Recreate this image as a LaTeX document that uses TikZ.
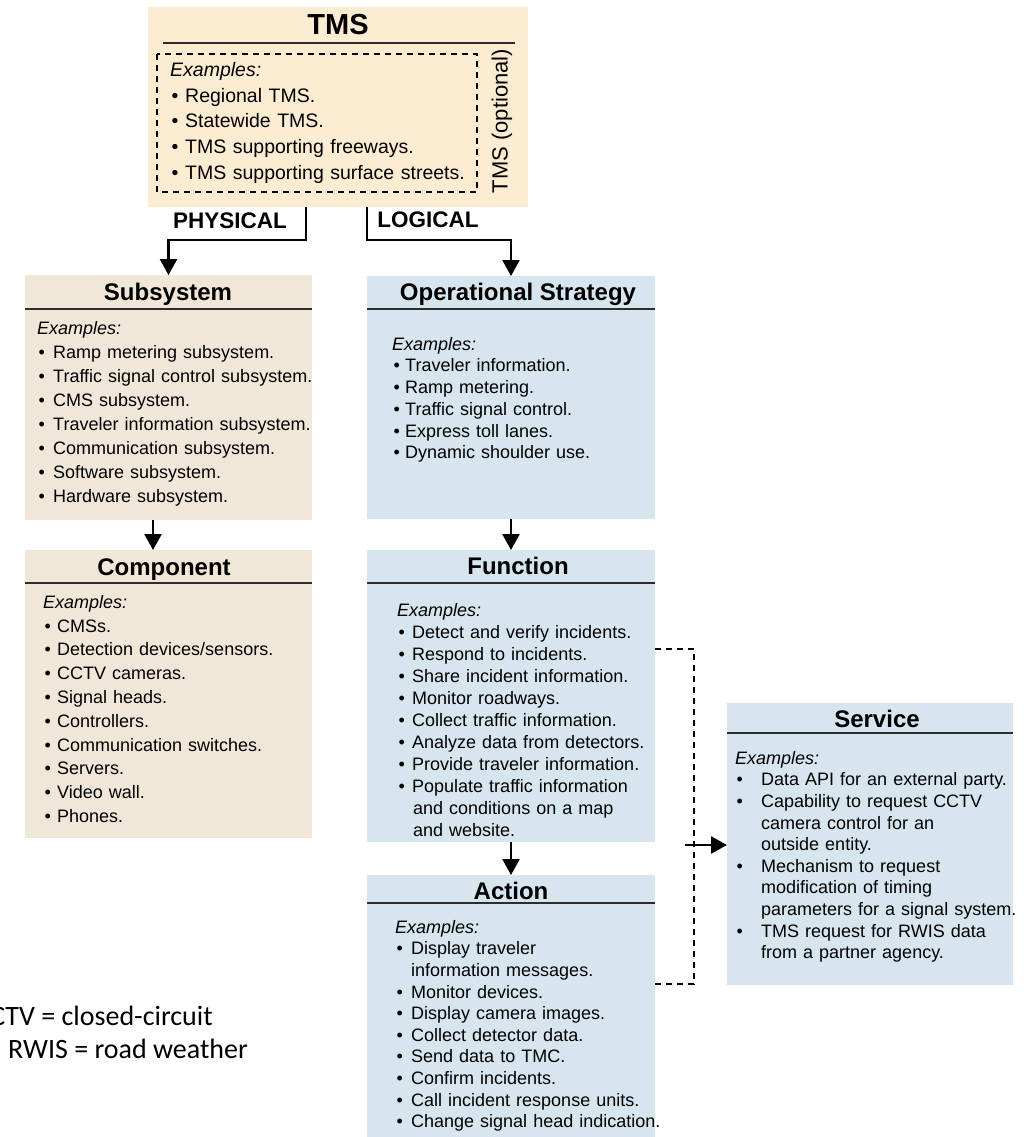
\documentclass[tikz,border=0pt]{standalone}
\usepackage{fontspec}
\setmainfont{Liberation Sans}
\newfontfamily\calfont{Carlito}
\usetikzlibrary{arrows.meta}
\definecolor{tmsfill}{RGB}{252,237,210}
\definecolor{phyfill}{RGB}{241,231,217}
\definecolor{logfill}{RGB}{215,230,238}
\definecolor{rulecol}{RGB}{45,45,45}
\newcommand{\itm}[1]{\makebox[#1][l]{\hspace{1.5pt}\textbullet}}
\newcommand{\cnt}[1]{\hspace*{#1}}
\tikzset{
  box/.style={anchor=north west, inner sep=0pt, outer sep=0pt, draw=none},
  phybox/.style={box, fill=phyfill},
  logbox/.style={box, fill=logfill},
  ttl/.style={anchor=base, inner sep=0pt, font=\fontsize{24}{28}\selectfont\bfseries},
  lbl/.style={anchor=base, inner sep=0pt, font=\fontsize{22.5}{26}\selectfont\bfseries},
  body/.style={anchor=north west, inner sep=0pt, align=left, text width=300pt},
  rul/.style={draw=rulecol, line width=2.2pt},
  arr/.style={line width=2.6pt, -{Triangle[width=17pt,length=16pt]}},
  dashl/.style={line width=2.2pt, dash pattern=on 6pt off 5pt},
  note/.style={inner sep=0pt, font=\calfont\fontsize{28}{32}\selectfont}
}
\begin{document}
\begin{tikzpicture}[x=1pt,y=-1pt]
\useasboundingbox (0,0) rectangle (1023,1137);
% boxes
\node[box, fill=tmsfill, minimum width=380pt, minimum height=200pt] (tms) at (148,7) {};
\node[phybox, minimum width=287pt, minimum height=245pt] (sub) at (25,275) {};
\node[phybox, minimum width=287pt, minimum height=288pt] (comp) at (25,550) {};
\node[logbox, minimum width=288pt, minimum height=243pt] (ops) at (367,276) {};
\node[logbox, minimum width=288pt, minimum height=292pt] (func) at (367,550) {};
\node[logbox, minimum width=288pt, minimum height=262pt] (act) at (367,875) {};
\node[logbox, minimum width=286pt, minimum height=282pt] (svc) at (727,703) {};
% rules
\draw[rul] (163,43) -- (515,43);
\draw[rul] (sub.west |- 0,309) -- (sub.east |- 0,309);
\draw[rul] (comp.west |- 0,583) -- (comp.east |- 0,583);
\draw[rul] (ops.west |- 0,309) -- (ops.east |- 0,309);
\draw[rul] (func.west |- 0,583) -- (func.east |- 0,583);
\draw[rul] (act.west |- 0,903) -- (act.east |- 0,903);
\draw[rul] (svc.west |- 0,733) -- (svc.east |- 0,733);
% titles
\node[ttl, font=\fontsize{29}{32}\selectfont\bfseries] (tmst) at (338,35) {TMS};
\node[ttl] (subt) at (168,300) {Subsystem};
\node[ttl] (compt) at (164,575) {Component};
\node[ttl] (opst) at (518,300) {Operational Strategy};
\node[ttl] (funct) at (518,574) {Function};
\node[ttl] (actt) at (511,899) {Action};
\node[ttl] (svct) at (877,727) {Service};
% TMS contents
\draw[dashl] (157,54) rectangle (477,192);
\node[body, font=\fontsize{19.5}{25.8}\selectfont] (tmsb) at (170,62) {%
\textit{Examples:}\\
\itm{15pt}Regional TMS.\\
\itm{15pt}Statewide TMS.\\
\itm{15pt}TMS supporting freeways.\\
\itm{15pt}TMS supporting surface streets.};
\node[rotate=90, inner sep=0pt, font=\fontsize{22}{24}\selectfont] (opt) at (502,121) {TMS (optional)};
% bodies
\node[body, font=\fontsize{18}{24}\selectfont] (subb) at (37,321) {%
\textit{Examples:}\\
\itm{16pt}Ramp metering subsystem.\\
\itm{16pt}Traffic signal control subsystem.\\
\itm{16pt}CMS subsystem.\\
\itm{16pt}Traveler information subsystem.\\
\itm{16pt}Communication subsystem.\\
\itm{16pt}Software subsystem.\\
\itm{16pt}Hardware subsystem.};
\node[body, font=\fontsize{18}{23.8}\selectfont] (compb) at (43,595) {%
\textit{Examples:}\\
\itm{14pt}CMSs.\\
\itm{14pt}Detection devices/sensors.\\
\itm{14pt}CCTV cameras.\\
\itm{14pt}Signal heads.\\
\itm{14pt}Controllers.\\
\itm{14pt}Communication switches.\\
\itm{14pt}Servers.\\
\itm{14pt}Video wall.\\
\itm{14pt}Phones.};
\node[body, font=\fontsize{18}{21.7}\selectfont] (opsb) at (392,337) {%
\textit{Examples:}\\
\itm{13pt}Traveler information.\\
\itm{13pt}Ramp metering.\\
\itm{13pt}Traffic signal control.\\
\itm{13pt}Express toll lanes.\\
\itm{13pt}Dynamic shoulder use.};
\node[body, font=\fontsize{18}{22}\selectfont] (funcb) at (397,603) {%
\textit{Examples:}\\
\itm{15pt}Detect and verify incidents.\\
\itm{15pt}Respond to incidents.\\
\itm{15pt}Share incident information.\\
\itm{15pt}Monitor roadways.\\
\itm{15pt}Collect traffic information.\\
\itm{15pt}Analyze data from detectors.\\
\itm{15pt}Provide traveler information.\\
\itm{15pt}Populate traffic information\\
\cnt{16pt}and conditions on a map\\
\cnt{16pt}and website.};
\node[body, font=\fontsize{18}{21.6}\selectfont] (actb) at (395,920) {%
\textit{Examples:}\\
\itm{16pt}Display traveler\\
\cnt{16pt}information messages.\\
\itm{16pt}Monitor devices.\\
\itm{16pt}Display camera images.\\
\itm{16pt}Collect detector data.\\
\itm{16pt}Send data to TMC.\\
\itm{16pt}Confirm incidents.\\
\itm{16pt}Call incident response units.\\
\itm{16pt}Change signal head indication.};
\node[body, font=\fontsize{18}{21.6}\selectfont] (svcb) at (735,751) {%
\textit{Examples:}\\
\itm{26pt}Data API for an external party.\\
\itm{26pt}Capability to request CCTV\\
\cnt{26pt}camera control for an\\
\cnt{26pt}outside entity.\\
\itm{26pt}Mechanism to request\\
\cnt{26pt}modification of timing\\
\cnt{26pt}parameters for a signal system.\\
\itm{26pt}TMS request for RWIS data\\
\cnt{26pt}from a partner agency.};
% labels
\node[lbl] (phy) at (230,228) {PHYSICAL};
\node[lbl] (log) at (428,227) {LOGICAL};
% connectors
\coordinate (p1) at (306,240);
\coordinate (p2) at (367,240);
\draw[arr] (tms.south -| p1) -- (p1) -- (p1 -| sub.north) -- (sub.north);
\draw[arr] (tms.south -| p2) -- (p2) -- (p2 -| ops.north) -- (ops.north);
\draw[arr] ([xshift=-15.5pt]sub.south) -- ([xshift=-15.5pt]comp.north);
\draw[arr] (ops.south) -- (func.north);
\draw[arr] (func.south) -- (act.north);
\coordinate (b1) at (694,649);
\coordinate (b2) at (694,984);
\draw[dashl] (func.east |- b1) -- (b1) -- (b2) -- (act.east |- b2);
\coordinate (a0) at (685,845);
\draw[arr] (a0) -- (svc.west |- a0);
% notes
\node[note, anchor=base east] (n1) at (213,1025) {CCTV = closed-circuit};
\node[note, anchor=base west] (n2) at (8,1058) {RWIS = road weather};
\end{tikzpicture}
\end{document}
